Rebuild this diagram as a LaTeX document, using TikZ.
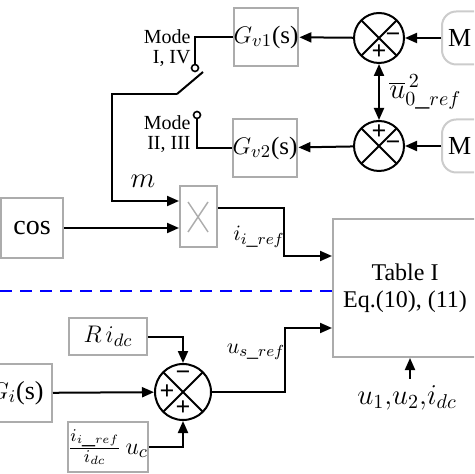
\documentclass[tikz,border=0pt]{standalone}
\usepackage{fontspec}
\setmainfont{Liberation Serif}
\usetikzlibrary{arrows.meta}
\tikzset{blk/.style={draw=gray!65,line width=1pt,fill=white,inner sep=0pt,font=\fontsize{12.5}{14}\selectfont},
  mblk/.style={blk,rounded corners=2.5mm,draw=gray!40,font=\fontsize{13}{14}\selectfont},
  sumc/.style={circle,draw,line width=1pt,inner sep=0pt,minimum size=25pt,
    path picture={\draw[line width=1pt] (path picture bounding box.north west)--(path picture bounding box.south east)
      (path picture bounding box.north east)--(path picture bounding box.south west);}},
  sgn/.style={font=\bfseries\fontsize{13}{13}\selectfont,inner sep=0pt},
  term/.style={circle,draw,line width=0.8pt,inner sep=0pt,minimum size=3.5pt},
  lbl/.style={inner sep=0pt,font=\fontsize{11}{11}\selectfont},
  arr/.style={line width=1pt,-{Triangle[length=6pt,width=5pt]}},
  ln/.style={line width=1pt}}
\newcommand{\mns}{\char"2212}

\begin{document}
\begin{tikzpicture}[x=0.5pt,y=-0.5pt]
 	   		\useasboundingbox (0,0) rectangle (474,474);
 	   		\begin{scope}
 	   		\clip (0,0) rectangle (474,474);
 	   		% upper part: voltage loops
 	   		\node[mblk,minimum width=40pt,minimum height=26.5pt,text width=34pt] (M1) at (482,38) {M};
 	   		\node[mblk,minimum width=40pt,minimum height=26.5pt,text width=34pt] (M2) at (482,146) {M};
 	   		\node[sumc] (s1) at (379,38) {};
 	   		\node[sumc] (s2) at (379,146) {};
 	   		\node[blk,minimum width=31.5pt,minimum height=29pt] (gv1) at (266,37) {$G_{v1}$(s)};
 	   		\node[blk,minimum width=31.5pt,minimum height=29pt] (gv2) at (265,148) {$G_{v2}$(s)};
 	   		\node[sgn] at ([xshift=7pt]s1.center) {\mns};
 	   		\node[sgn] at ([yshift=-7pt]s1.center) {+};
 	   		\node[sgn] at ([yshift=7pt]s2.center) {+};
 	   		\node[sgn] at ([xshift=7pt]s2.center) {\mns};
 	   		\draw[arr] (M1) -- (s1);
 	   		\draw[arr] (M2) -- (s2);
 	   		\draw[arr] (s1) -- (gv1);
 	   		\draw[arr] (s2) -- (gv2);
 	   		\draw[line width=1pt,{Triangle[length=6pt,width=5pt]}-{Triangle[length=6pt,width=5pt]}] (s1) -- (s2);
 	   		\node[lbl,anchor=west,font=\fontsize{14}{14}\selectfont] (uref) at (389,92) {$\overline{u}_{0\_ref}^{\,2}$};
 	   		% mode switch
 	   		\node[term] (t1) at (195,68) {};
 	   		\node[term] (t2) at (197,115) {};
 	   		\draw[ln] (gv1.west) -| (t1);
 	   		\draw[ln] (gv2.west) -| (t2);
 	   		\node[align=right,anchor=east,font=\fontsize{10}{10}\selectfont,inner sep=0pt] at (191,48) {Mode\\I, IV};
 	   		\node[align=right,anchor=east,font=\fontsize{10}{10}\selectfont,inner sep=0pt] at (191,134) {Mode\\II, III};
 	   		\path (177,94) coordinate (sw) (203,72) coordinate (bl);
 	   		\draw[ln] (sw) -- (bl);
 	   		% modulation
 	   		\node[blk,minimum width=18.5pt,minimum height=30.5pt] (xb) at (198.5,216.5) {};
 	   		\draw[gray!65,line width=0.7pt] (188,202) -- (208,232) (208,202) -- (188,232);
 	   		\node[blk,minimum width=31pt,minimum height=30pt,font=\fontsize{14}{14}\selectfont] (cos) at (32,228) {cos};
 	   		\draw[arr] (sw) -- (112,94) |- ([yshift=7.75pt]xb.west);
 	   		\node[lbl,font=\fontsize{14}{14}\selectfont] (m) at (143,181) {$m$};
 	   		\draw[arr] (cos) -- (cos -| xb.west);
 	   		\node[blk,minimum width=72pt,minimum height=69pt] (tab) at (405,288) {};
 	   		\node[font=\fontsize{12}{13.5}\selectfont,align=center] at (405,288) {Table I\\Eq.(10), (11)};
 	   		\draw[arr] ([yshift=4.25pt]xb.east) -- (284,208) |- ([yshift=16pt]tab.west);
 	   		\node[lbl] (iref) at (259,237) {$i_{i\_ref}$};
 	   		\draw[blue,line width=1pt,dash pattern=on 6pt off 4pt] (0,291) -- (tab.west |- {(0,291)});
 	   		% lower part: dc side
 	   		\node[sumc,minimum size=28pt] (s3) at (183,392) {};
 	   		\node[sgn] at ([yshift=8pt]s3.center) {\mns};
 	   		\node[sgn] at ([xshift=-8pt]s3.center) {+};
 	   		\node[sgn] at ([yshift=-8pt]s3.center) {+};
 	   		\node[blk,minimum width=39pt,minimum height=18.5pt,font=\fontsize{13}{14}\selectfont] (ridc) at (108,336.5) {$R\,i_{dc}$};
 	   		\node[blk,minimum width=35pt,minimum height=29pt,font=\fontsize{13}{14}\selectfont] (gi) at (17,393) {$G_i$(s)};
 	   		\node[blk,minimum width=39pt,minimum height=25pt,font=\fontsize{13}{14}\selectfont] (fr) at (108,447) {$\frac{i_{i\_ref}}{i_{dc}}\,u_c$};
 	   		\draw[arr] (ridc) -| (s3);
 	   		\draw[arr] (fr) -| (s3);
 	   		\draw[arr] (gi) -- (s3);
 	   		\draw[arr] (s3) -- (285,392) |- ([yshift=-20pt]tab.west);
 	   		\node[lbl] (usref) at (256,352) {$u_{s\_ref}$};
 	   		\node[font=\fontsize{14}{14}\selectfont] (meas) at (407,398) {$u_1{,}u_2{,}i_{dc}$};
 	   		\draw[arr] (meas.north -| 410,0) -- (tab.south -| 410,0);
 	   		\end{scope}
 	   		\end{tikzpicture}
\end{document}
